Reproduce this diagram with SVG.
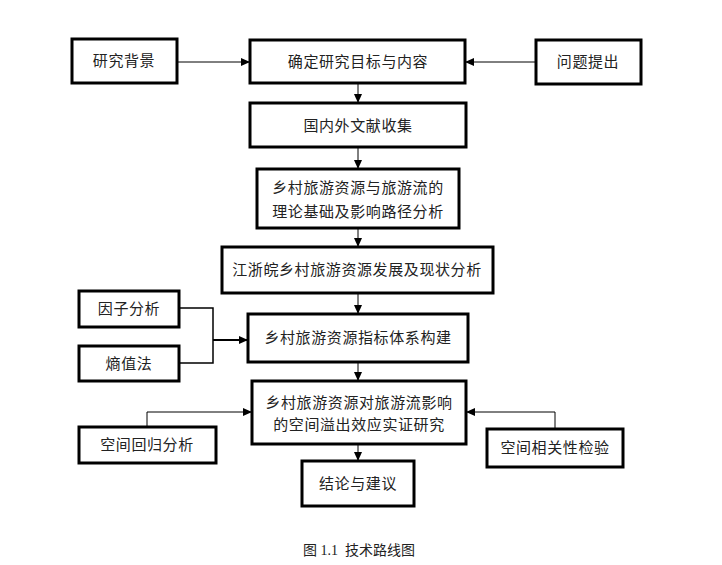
<svg xmlns="http://www.w3.org/2000/svg" width="722" height="565" viewBox="0 0 722 565">
<style>
.box{fill:#fff;stroke:#000;stroke-width:3}
.t{font-family:"Liberation Serif","Noto Sans CJK SC",serif;font-size:15px;letter-spacing:0.6px;text-anchor:middle;dominant-baseline:central;fill:#222}
.ln{fill:none;stroke:#000;stroke-width:1}
.cap{font-family:"Liberation Serif","Noto Sans CJK SC",serif;font-size:14px;text-anchor:middle;fill:#222}
</style>
<defs>
<marker id="ah" markerWidth="10" markerHeight="10" refX="9" refY="5" orient="auto" markerUnits="userSpaceOnUse">
<path d="M0,1 L9,5 L0,9 Z" fill="#000"/>
</marker>
</defs>
<rect width="722" height="565" fill="#fff"/>
<g id="connectors">
<line class="ln" x1="177" y1="62" x2="250" y2="62" marker-end="url(#ah)"/>
<line class="ln" x1="536" y1="62" x2="465" y2="62" marker-end="url(#ah)"/>
<line class="ln" x1="358" y1="83" x2="358" y2="103" marker-end="url(#ah)"/>
<line class="ln" x1="358" y1="147" x2="358" y2="169" marker-end="url(#ah)"/>
<line class="ln" x1="358" y1="228" x2="358" y2="247" marker-end="url(#ah)"/>
<line class="ln" x1="358" y1="293" x2="358" y2="314" marker-end="url(#ah)"/>
<polyline class="ln" points="179,308 213,308 213,363 179,363" style="stroke-width:1.5"/>
<line class="ln" x1="213" y1="340" x2="248" y2="340" style="stroke-width:2" marker-end="url(#ah)"/>
<line class="ln" x1="358" y1="362" x2="358" y2="381" marker-end="url(#ah)"/>
<line class="ln" x1="358" y1="444" x2="358" y2="461" marker-end="url(#ah)"/>
<polyline class="ln" points="147,427 147,412 252,412" marker-end="url(#ah)"/>
<polyline class="ln" points="555,429 555,412 466,412" marker-end="url(#ah)"/>
</g>
<g id="n1"><rect class="box" x="72" y="39" width="105" height="44"/><text class="t" x="124" y="61">研究背景</text></g>
<g id="n2"><rect class="box" x="250" y="40" width="215" height="43"/><text class="t" x="358" y="62">确定研究目标与内容</text></g>
<g id="n3"><rect class="box" x="536" y="40" width="105" height="44"/><text class="t" x="588" y="62">问题提出</text></g>
<g id="n4"><rect class="box" x="250" y="103" width="216" height="44"/><text class="t" x="358" y="126">国内外文献收集</text></g>
<g id="n5"><rect class="box" x="257" y="169" width="202" height="59"/><text class="t" x="358" y="188">乡村旅游资源与旅游流的</text><text class="t" x="358" y="212">理论基础及影响路径分析</text></g>
<g id="n6"><rect class="box" x="222" y="247" width="271" height="46"/><text class="t" x="357" y="270">江浙皖乡村旅游资源发展及现状分析</text></g>
<g id="n7"><rect class="box" x="79" y="291" width="100" height="36"/><text class="t" x="129" y="309">因子分析</text></g>
<g id="n8"><rect class="box" x="79" y="346" width="100" height="35"/><text class="t" x="129" y="364">熵值法</text></g>
<g id="n9"><rect class="box" x="248" y="314" width="220" height="48"/><text class="t" x="358" y="338">乡村旅游资源指标体系构建</text></g>
<g id="n10"><rect class="box" x="252" y="381" width="214" height="63"/><text class="t" x="359" y="403">乡村旅游资源对旅游流影响</text><text class="t" x="359" y="425">的空间溢出效应实证研究</text></g>
<g id="n11"><rect class="box" x="79" y="427" width="137" height="36"/><text class="t" x="147" y="445">空间回归分析</text></g>
<g id="n12"><rect class="box" x="487" y="429" width="136" height="38"/><text class="t" x="555" y="448">空间相关性检验</text></g>
<g id="n13"><rect class="box" x="302" y="461" width="112" height="45"/><text class="t" x="358" y="484">结论与建议</text></g>
<text class="cap" x="359" y="555" xml:space="preserve">图 1.1  技术路线图</text>
</svg>
